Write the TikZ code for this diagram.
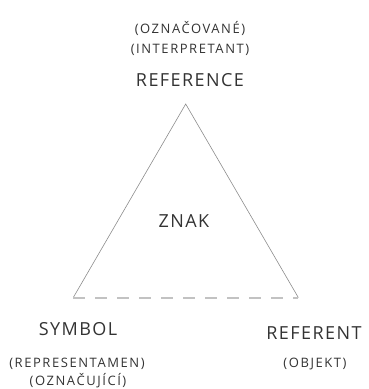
\documentclass[tikz,border=0pt]{standalone}
\usepackage{fontspec}
\setmainfont{Open Sans}
\begin{document}
\begin{tikzpicture}[x=1pt,y=-1pt,
  big/.style={font=\fontsize{18}{18}\selectfont\addfontfeatures{LetterSpace=8}, text=black!80, inner sep=0pt, anchor=base},
  small/.style={font=\fontsize{13}{13}\selectfont\addfontfeatures{LetterSpace=12}, text=black!80, inner sep=0pt, anchor=base},
  edge/.style={draw=black!45, line width=0.6pt},
  baseedge/.style={draw=black!24, line width=2pt, dash pattern=on 12pt off 10pt}]
\useasboundingbox (0,0) rectangle (368,389);
\coordinate (apex) at (185.7,104);
\coordinate (bl) at (73.3,297.5);
\coordinate (br) at (298.3,297.5);
\draw[edge] (bl) -- (apex) -- (br);
\draw[baseedge] (bl) -- (br);
\node[small] (oznacovane) at (190,33) {(OZNAČOVANÉ)};
\node[small] (interpretant) at (190,53) {(INTERPRETANT)};
\node[big] (reference) at (190,86) {REFERENCE};
\node[big] (znak) at (184,227) {ZNAK};
\node[big] (symbol) at (78,335.5) {SYMBOL};
\node[small] (representamen) at (77,367) {(REPRESENTAMEN)};
\node[small] (oznacujici) at (78,385) {(OZNAČUJÍCÍ)};
\node[big] (referent) at (314,339) {REFERENT};
\node[small] (objekt) at (315,367) {(OBJEKT)};
\end{tikzpicture}
\end{document}
